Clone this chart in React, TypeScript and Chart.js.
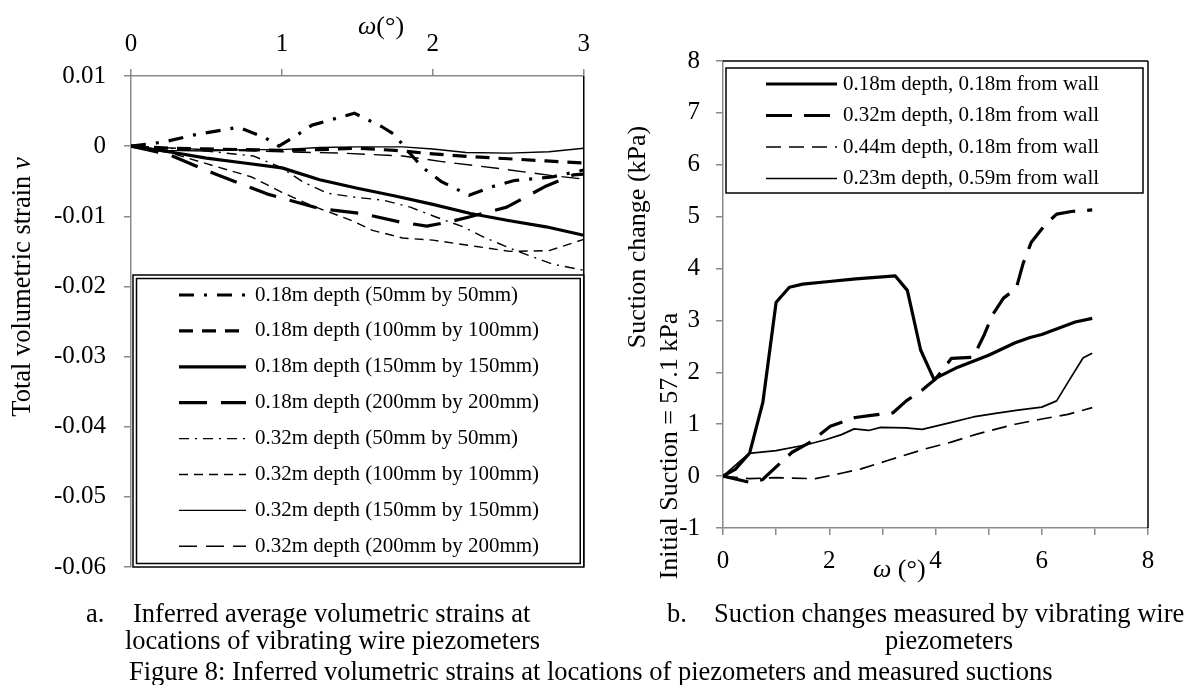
import React, { useEffect, useRef } from 'react';
import { Chart, registerables } from 'chart.js';

Chart.register(...registerables);

const SERIF = '"Liberation Serif", "Times New Roman", serif';
const AXIS_GREY = '#8a8a8a';

// ---------- Figure 8a : inferred volumetric strains ----------
const strainTickStep = 0.01;
const omegaA = [0, 0.22, 0.42, 0.71, 0.88, 0.98, 1.08, 1.2, 1.48, 1.66, 1.75, 1.81, 1.93, 2.06, 2.24, 2.39, 2.54, 2.79, 3.0];
const strainA = [0, 0.0006, 0.0016, 0.0027, 0.0013, 0.0, 0.0013, 0.003, 0.0047, 0.0028, 0.0016, -0.0001, -0.003, -0.0051, -0.007, -0.0058, -0.0049, -0.0044, -0.0034];

const omegaB = [0, 0.25, 0.5, 0.75, 1.0, 1.25, 1.5, 1.75, 2.0, 2.25, 2.5, 2.75, 3.0];
const strainB = [0, -0.0003, -0.0004, -0.0005, -0.0006, -0.0005, -0.0003, -0.0006, -0.0011, -0.0015, -0.0018, -0.0021, -0.0024];

const omegaC = [0, 0.25, 0.5, 0.75, 1.0, 1.25, 1.5, 1.75, 2.0, 2.25, 2.5, 2.75, 3.0];
const strainC = [0, -0.0008, -0.0017, -0.0024, -0.0031, -0.0048, -0.006, -0.0071, -0.0083, -0.0096, -0.0106, -0.0115, -0.0127];

const omegaD = [0, 0.25, 0.55, 0.9, 1.25, 1.53, 1.78, 1.96, 2.11, 2.24, 2.49, 2.74, 2.93, 3.0];
const strainD = [0, -0.0012, -0.0039, -0.0068, -0.0089, -0.0096, -0.0108, -0.0114, -0.0108, -0.0101, -0.0087, -0.0058, -0.0041, -0.004];

const omegaE = [0, 0.25, 0.5, 0.81, 0.99, 1.14, 1.3, 1.49, 1.67, 1.85, 2.02, 2.2, 2.35, 2.54, 2.79, 3.0];
const strainE = [0, -0.0003, -0.0007, -0.0014, -0.003, -0.0051, -0.0067, -0.0073, -0.0077, -0.0087, -0.0101, -0.0115, -0.0131, -0.0148, -0.0168, -0.0177];

const omegaF = [0, 0.25, 0.5, 0.8, 1.0, 1.2, 1.45, 1.6, 1.8, 2.0, 2.29, 2.51, 2.77, 3.0];
const strainF = [0, -0.0009, -0.0025, -0.0044, -0.0066, -0.0085, -0.0105, -0.012, -0.0131, -0.0134, -0.0143, -0.015, -0.0149, -0.0133];

const omegaG = [0, 0.25, 0.5, 0.75, 1.0, 1.25, 1.5, 1.8, 2.0, 2.22, 2.5, 2.77, 3.0];
const strainG = [0, -0.0006, -0.0007, -0.0005, -0.0005, -0.0002, -0.0001, -0.0001, -0.0004, -0.0009, -0.001, -0.0008, -0.0003];

const omegaH = [0, 0.5, 1.0, 1.4, 1.8, 2.06, 2.44, 2.79, 3.0];
const strainH = [0, -0.0005, -0.0008, -0.001, -0.0014, -0.0022, -0.0032, -0.0042, -0.0047];

const strainLabels = [
  '0.18m depth (50mm by 50mm)',
  '0.18m depth (100mm by 100mm)',
  '0.18m depth (150mm by 150mm)',
  '0.18m depth (200mm by 200mm)',
  '0.32m depth (50mm by 50mm)',
  '0.32m depth (100mm by 100mm)',
  '0.32m depth (150mm by 150mm)',
  '0.32m depth (200mm by 200mm)',
];

// ---------- Figure 8b : suction changes ----------
const omegaS1 = [0, 0.23, 0.5, 0.75, 1.0, 1.25, 1.5, 2.0, 2.5, 3.0, 3.24, 3.47, 3.72, 3.97, 4.42, 5.0, 5.5, 5.78, 6.0, 6.63, 6.95];
const suctionS1 = [0, 0.13, 0.44, 1.42, 3.35, 3.64, 3.7, 3.75, 3.8, 3.84, 3.86, 3.58, 2.43, 1.87, 2.1, 2.33, 2.57, 2.67, 2.73, 2.97, 3.04];

const omegaS2 = [0, 0.5, 0.74, 0.95, 1.3, 1.62, 2.02, 2.49, 2.79, 3.2, 3.45, 3.75, 4.0, 4.3, 4.71, 4.92, 5.07, 5.28, 5.52, 5.65, 5.8, 6.06, 6.28, 6.56, 6.95];
const suctionS2 = [0, -0.12, -0.07, 0.13, 0.46, 0.64, 0.96, 1.13, 1.17, 1.22, 1.45, 1.66, 1.87, 2.27, 2.29, 2.73, 3.1, 3.43, 3.62, 4.1, 4.5, 4.84, 5.05, 5.1, 5.13];

const omegaS3 = [0, 0.5, 1.0, 1.74, 2.25, 2.6, 3.1, 3.79, 4.28, 4.78, 5.5, 6.0, 6.49, 6.95];
const suctionS3 = [0, -0.05, -0.03, -0.05, 0.06, 0.14, 0.3, 0.52, 0.65, 0.81, 1.0, 1.1, 1.19, 1.32];

const omegaS4 = [0, 0.49, 1.0, 1.55, 1.93, 2.23, 2.47, 2.74, 2.97, 3.43, 3.75, 4.28, 4.71, 5.13, 5.55, 6.0, 6.28, 6.53, 6.78, 6.95];
const suctionS4 = [0, 0.44, 0.49, 0.6, 0.7, 0.8, 0.91, 0.88, 0.94, 0.93, 0.9, 1.03, 1.14, 1.21, 1.27, 1.33, 1.45, 1.87, 2.28, 2.37];

const suctionLabels = [
  '0.18m depth, 0.18m from wall',
  '0.32m depth, 0.18m from wall',
  '0.44m depth, 0.18m from wall',
  '0.23m depth, 0.59m from wall',
];

// ---------- helpers ----------
type Seg = { text: string; italic?: boolean };

const fontOf = (size: number, italic?: boolean) => `${italic ? 'italic ' : ''}${size}px ${SERIF}`;

function segsWidth(ctx: CanvasRenderingContext2D, segs: Seg[], size: number) {
  let w = 0;
  for (const s of segs) {
    ctx.font = fontOf(size, s.italic);
    w += ctx.measureText(s.text).width;
  }
  return w;
}

function drawSegs(ctx: CanvasRenderingContext2D, segs: Seg[], size: number, x: number, y: number) {
  ctx.textBaseline = 'middle';
  ctx.textAlign = 'left';
  ctx.fillStyle = '#000';
  let cx = x;
  for (const s of segs) {
    ctx.font = fontOf(size, s.italic);
    ctx.fillText(s.text, cx, y);
    cx += ctx.measureText(s.text).width;
  }
}

function drawRotated(ctx: CanvasRenderingContext2D, segs: Seg[], size: number, cx: number, cy: number) {
  ctx.save();
  ctx.translate(cx, cy);
  ctx.rotate(-Math.PI / 2);
  const w = segsWidth(ctx, segs, size);
  drawSegs(ctx, segs, size, -w / 2, 0);
  ctx.restore();
}

type LegendLayout = {
  box: [number, number, number, number];
  double: boolean;
  sx1: number;
  sx2: number;
  tx: number;
  y0: number;
  dy: number;
  size: number;
};

function drawLegend(ctx: CanvasRenderingContext2D, chart: any, L: LegendLayout) {
  const [x1, y1, x2, y2] = L.box;
  ctx.save();
  ctx.fillStyle = '#fff';
  ctx.fillRect(x1, y1, x2 - x1, y2 - y1);
  ctx.strokeStyle = '#000';
  ctx.lineWidth = 1.5;
  ctx.setLineDash([]);
  ctx.strokeRect(x1, y1, x2 - x1, y2 - y1);
  if (L.double) {
    ctx.strokeRect(x1 + 3.5, y1 + 3.5, x2 - x1 - 7, y2 - y1 - 7);
  }
  chart.data.datasets.forEach((ds: any, i: number) => {
    const y = L.y0 + i * L.dy;
    ctx.beginPath();
    ctx.lineCap = 'butt';
    ctx.setLineDash(ds.borderDash || []);
    ctx.lineWidth = ds.borderWidth;
    ctx.strokeStyle = '#000';
    ctx.moveTo(L.sx1, y);
    ctx.lineTo(L.sx2, y);
    ctx.stroke();
    ctx.setLineDash([]);
    ctx.font = fontOf(L.size);
    ctx.fillStyle = '#000';
    ctx.textAlign = 'left';
    ctx.textBaseline = 'middle';
    ctx.fillText(ds.label, L.tx, y);
  });
  ctx.restore();
}

function strokeLine(ctx: CanvasRenderingContext2D, x1: number, y1: number, x2: number, y2: number) {
  ctx.beginPath();
  ctx.moveTo(x1, y1);
  ctx.lineTo(x2, y2);
  ctx.stroke();
}

const toPoints = (xs: number[], ys: number[]) => xs.map((x, i) => ({ x, y: ys[i] }));

const tickFont = { family: SERIF, size: 25 };
const gridCfg = {
  display: true,
  drawOnChartArea: false,
  drawTicks: true,
  tickLength: 7,
  color: AXIS_GREY,
  lineWidth: 1.5,
};
const borderCfg = { display: true, color: AXIS_GREY, width: 1.5 };

// ---------- chart configs ----------
function strainConfig(): any {
  const style = [
    { w: 3.2, dash: [15, 10, 3, 10] },
    { w: 3.2, dash: [14, 9] },
    { w: 3.2, dash: [] },
    { w: 3.2, dash: [28, 14] },
    { w: 1.4, dash: [10, 6, 2, 6] },
    { w: 1.4, dash: [9, 6] },
    { w: 1.4, dash: [] },
    { w: 1.4, dash: [18, 9] },
  ];
  const series = [
    toPoints(omegaA, strainA),
    toPoints(omegaB, strainB),
    toPoints(omegaC, strainC),
    toPoints(omegaD, strainD),
    toPoints(omegaE, strainE),
    toPoints(omegaF, strainF),
    toPoints(omegaG, strainG),
    toPoints(omegaH, strainH),
  ];
  const decor = {
    id: 'strainDecor',
    afterDraw(chart: any) {
      const ctx: CanvasRenderingContext2D = chart.ctx;
      const a = chart.chartArea;
      ctx.save();
      ctx.strokeStyle = '#000';
      ctx.lineWidth = 1.5;
      strokeLine(ctx, a.right, a.top, a.right, a.bottom);
      drawLegend(ctx, chart, {
        box: [a.left + 2, 275, a.right, a.bottom],
        double: true,
        sx1: 179,
        sx2: 246,
        tx: 255,
        y0: 295,
        dy: 35.9,
        size: 21,
      });
      drawSegs(ctx, [{ text: 'ω', italic: true }, { text: '(°)' }], 26, 358, 27);
      drawRotated(ctx, [{ text: 'Total volumetric strain ' }, { text: 'ν', italic: true }], 26.5, 23, 287);
      ctx.restore();
    },
  };
  return {
    type: 'line',
    data: {
      datasets: series.map((pts, i) => ({
        label: strainLabels[i],
        data: pts,
        borderColor: '#000',
        backgroundColor: '#000',
        borderWidth: style[i].w,
        borderDash: style[i].dash,
        borderCapStyle: 'butt',
        borderJoinStyle: 'round',
        pointRadius: 0,
        tension: 0,
        fill: false,
      })),
    },
    options: {
      animation: false,
      responsive: false,
      devicePixelRatio: 1,
      layout: { padding: { left: 0, top: 0, right: 10, bottom: 118 } },
      plugins: { legend: { display: false }, tooltip: { enabled: false } },
      scales: {
        x: {
          type: 'linear',
          position: 'top',
          min: 0,
          max: 3,
          ticks: { stepSize: 1, padding: 10, color: '#000', font: tickFont, maxRotation: 0, autoSkip: false },
          grid: gridCfg,
          border: borderCfg,
          afterFit: (s: any) => {
            s.height = 76;
          },
        },
        y: {
          type: 'linear',
          min: -0.06,
          max: 0.01,
          ticks: {
            stepSize: strainTickStep,
            padding: 18,
            color: '#000',
            font: tickFont,
            autoSkip: false,
            callback: (v: number) => (Math.abs(v) < 1e-9 ? '0' : v.toFixed(2)),
          },
          grid: gridCfg,
          border: borderCfg,
          afterFit: (s: any) => {
            s.width = 131;
          },
        },
      },
    },
    plugins: [decor],
  };
}

function suctionConfig(): any {
  const style = [
    { w: 3.2, dash: [] },
    { w: 3.2, dash: [26, 12] },
    { w: 1.7, dash: [15, 8] },
    { w: 1.7, dash: [] },
  ];
  const series = [
    toPoints(omegaS1, suctionS1),
    toPoints(omegaS2, suctionS2),
    toPoints(omegaS3, suctionS3),
    toPoints(omegaS4, suctionS4),
  ];
  const decor = {
    id: 'suctionDecor',
    afterDraw(chart: any) {
      const ctx: CanvasRenderingContext2D = chart.ctx;
      const a = chart.chartArea;
      ctx.save();
      ctx.strokeStyle = '#000';
      ctx.lineWidth = 1.5;
      strokeLine(ctx, a.left, a.top, a.right, a.top);
      strokeLine(ctx, a.right, a.top, a.right, a.bottom);
      drawLegend(ctx, chart, {
        box: [126, 68, 543, 193],
        double: false,
        sx1: 166,
        sx2: 237,
        tx: 243,
        y0: 84,
        dy: 31.5,
        size: 21,
      });
      drawSegs(ctx, [{ text: 'ω', italic: true }, { text: ' (°)' }], 26, 273, 570);
      drawRotated(ctx, [{ text: 'Suction change (kPa)' }], 26, 38, 237);
      drawRotated(ctx, [{ text: 'Initial Suction = 57.1 kPa' }], 26, 70, 446);
      ctx.restore();
    },
  };
  return {
    type: 'line',
    data: {
      datasets: series.map((pts, i) => ({
        label: suctionLabels[i],
        data: pts,
        borderColor: '#000',
        backgroundColor: '#000',
        borderWidth: style[i].w,
        borderDash: style[i].dash,
        borderCapStyle: 'butt',
        borderJoinStyle: 'round',
        pointRadius: 0,
        tension: 0,
        fill: false,
      })),
    },
    options: {
      animation: false,
      responsive: false,
      devicePixelRatio: 1,
      layout: { padding: { left: 0, top: 61, right: 40, bottom: 85 } },
      plugins: { legend: { display: false }, tooltip: { enabled: false } },
      scales: {
        x: {
          type: 'linear',
          position: 'bottom',
          min: 0,
          max: 8,
          ticks: {
            stepSize: 1,
            padding: 11,
            color: '#000',
            font: tickFont,
            maxRotation: 0,
            autoSkip: false,
            callback: (v: number) => (Math.round(v) % 2 === 0 ? String(Math.round(v)) : ''),
          },
          grid: gridCfg,
          border: borderCfg,
          afterFit: (s: any) => {
            s.height = 72;
          },
        },
        y: {
          type: 'linear',
          min: -1,
          max: 8,
          ticks: { stepSize: 1, padding: 16, color: '#000', font: tickFont, autoSkip: false },
          grid: gridCfg,
          border: borderCfg,
          afterFit: (s: any) => {
            s.width = 123;
          },
        },
      },
    },
    plugins: [decor],
  };
}

function ChartCanvas({ make, left, width, height }: { make: () => any; left: number; width: number; height: number }) {
  const ref = useRef<HTMLCanvasElement | null>(null);
  useEffect(() => {
    if (!ref.current) return;
    const chart = new Chart(ref.current, make());
    return () => chart.destroy();
  }, [make]);
  return (
    <canvas
      ref={ref}
      width={width}
      height={height}
      style={{ position: 'absolute', left, top: 0, width, height }}
    />
  );
}

const captionStyle: React.CSSProperties = {
  position: 'absolute',
  fontFamily: SERIF,
  fontSize: '26.5px',
  lineHeight: '26.5px',
  whiteSpace: 'nowrap',
  color: '#000',
};

export default function App() {
  return (
    <div style={{ position: 'absolute', left: 0, top: 0, width: 1188, height: 685, background: '#fff', overflow: 'hidden' }}>
      <ChartCanvas make={strainConfig} left={0} width={600} height={685} />
      <ChartCanvas make={suctionConfig} left={600} width={588} height={685} />
      <div style={{ ...captionStyle, left: 86, top: 600 }}>a.</div>
      <div style={{ ...captionStyle, left: 133, top: 600 }}>Inferred average volumetric strains at</div>
      <div style={{ ...captionStyle, left: 125, top: 627 }}>locations of vibrating wire piezometers</div>
      <div style={{ ...captionStyle, left: 667, top: 600 }}>b.</div>
      <div style={{ ...captionStyle, left: 714, top: 600 }}>Suction changes measured by vibrating wire</div>
      <div style={{ ...captionStyle, left: 949, top: 627, transform: 'translateX(-50%)' }}>piezometers</div>
      <div style={{ ...captionStyle, left: 129, top: 658 }}>
        Figure 8: Inferred volumetric strains at locations of piezometers and measured suctions
      </div>
    </div>
  );
}
